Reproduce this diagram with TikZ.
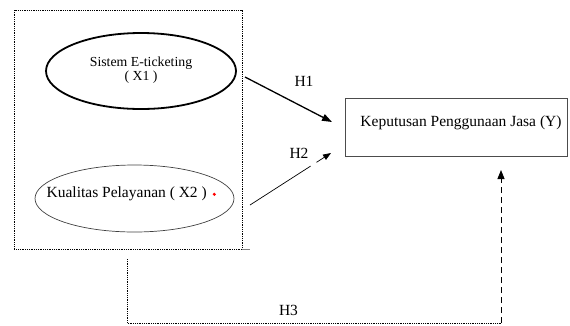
\documentclass[tikz,border=0pt]{standalone}
\usepackage{fontspec}
\setmainfont{Liberation Serif}
\usetikzlibrary{shapes.geometric,arrows.meta}
\begin{document}
\begin{tikzpicture}[x=1pt,y=-1pt,
  txt/.style={font=\fontsize{15.5}{17}\selectfont, inner sep=0pt},
  smalltxt/.style={font=\fontsize{13.8}{14}\selectfont, inner sep=0pt, align=center},
  dotframe/.style={line width=0.8pt, dash pattern=on 1pt off 0.8pt},
  thickell/.style={ellipse, draw, line width=1.8pt, minimum width=190pt, minimum height=76pt, inner sep=0pt},
  thinell/.style={ellipse, draw=black!75, line width=0.7pt, minimum width=199pt, minimum height=67pt, inner sep=0pt},
  ybox/.style={rectangle, draw=black!70, line width=0.9pt, minimum width=222pt, minimum height=58pt, inner sep=0pt},
  h1arrow/.style={line width=1.3pt, -{Triangle[length=10pt,width=7pt]}},
  h2arrow/.style={line width=0.7pt, -{Triangle[length=8pt,width=6pt]}, dash pattern=on 72pt off 7pt on 30pt},
  h3dot/.style={line width=0.8pt, dash pattern=on 1pt off 0.8pt},
  h3dash/.style={line width=0.9pt, dash pattern=on 6pt off 4pt, -{Triangle[length=9pt,width=7pt]}}
]
\useasboundingbox (0,0) rectangle (570,325);
% frame
\draw[dotframe] (14,10) rectangle (242,249);
\draw[line width=0.6pt, black!50] (242,249) -- (250,249);
% ellipses
\node[thickell] (e1) at (141,71) {};
\node[smalltxt] (t1) at (141,70.5) {Sistem E-ticketing\\( X1 )};
\node[thinell] (e2) at (134.5,198.5) {};
\node[txt] (t2) at (126.7,194) {Kualitas Pelayanan ( X2 )};
\fill[red] (214.3,194.3) circle (1.7pt);
% Y box
\node[ybox] (y) at (456,127) {};
\node[txt] (ty) at (461,123) {Keputusan Penggunaan Jasa (Y)};
% connector end points
\coordinate (h1s) at (245,77);
\coordinate (h1e) at (332,122);
\coordinate (h2s) at (250,205);
\coordinate (h2e) at (331,153);
\coordinate (h3s) at (127,259);
\coordinate (h3c) at (501,323);
\coordinate (h3e) at (501,170);
\draw[h1arrow] (h1s) -- (h1e);
\draw[h2arrow] (h2s) -- (h2e);
\draw[h3dot] (h3s) |- (h3c);
\draw[h3dash] (h3c) -- (h3e);
% labels
\node[txt] (l1) at (304,81) {H1};
\node[txt] (l2) at (299,153) {H2};
\node[txt] (l3) at (288.5,310.5) {H3};
\end{tikzpicture}
\end{document}
